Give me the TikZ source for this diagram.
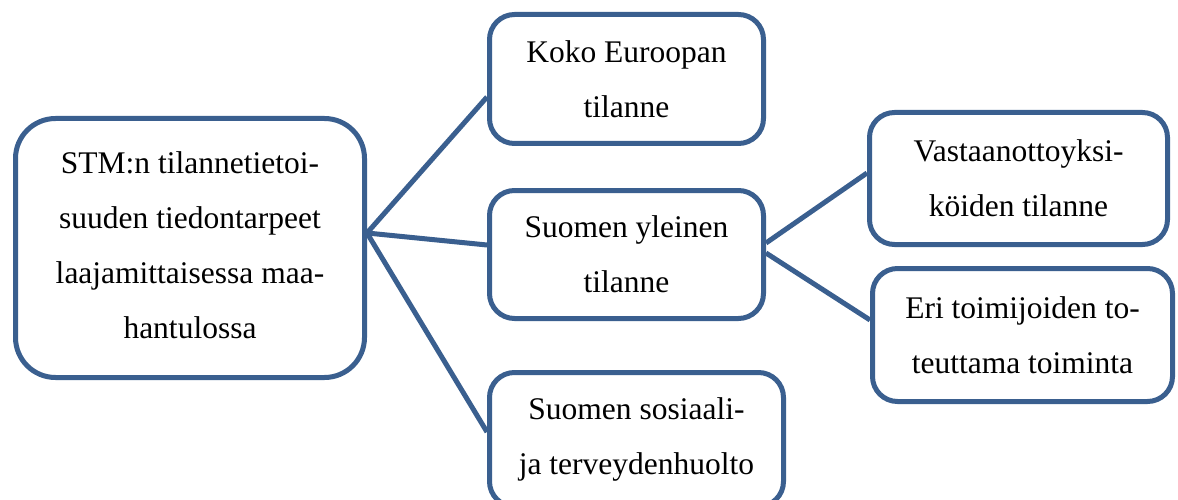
\documentclass[tikz,border=0pt]{standalone}
\usepackage{fontspec}
\setmainfont{Liberation Serif}
\usetikzlibrary{calc}
\definecolor{boxblue}{RGB}{58,95,143}
\begin{document}
\begin{tikzpicture}[x=1pt,y=-1pt,
  box/.style={draw=boxblue, line width=5pt, rounded corners=25pt, fill=white,
    inner sep=0pt, align=center, font=\fontsize{31.5}{55}\selectfont, text=black},
  conn/.style={draw=boxblue, line width=5pt}]
\path[use as bounding box, clip] (0,0) rectangle (1178,500);
% boxes
\node[box, rounded corners=40pt, minimum width=349pt, minimum height=259pt, text depth=6pt] (L) at (190,248)
  {STM:n tilannetietoi-\\suuden tiedontarpeet\\laajamittaisessa maa-\\hantulossa};
\node[box, minimum width=274pt, minimum height=129pt] (T) at (626.5,79)
  {Koko Euroopan\\tilanne};
\node[box, minimum width=274pt, minimum height=128pt] (M) at (626.5,254.5)
  {Suomen yleinen\\tilanne};
\node[box, minimum width=294pt, minimum height=134pt] (B) at (636.5,439.5)
  {Suomen sosiaali-\\ja terveydenhuolto};
\node[box, minimum width=298pt, minimum height=132pt] (R1) at (1018.5,178.5)
  {Vastaanottoyksi-\\köiden tilanne};
\node[box, minimum width=300pt, minimum height=133pt] (R2) at (1022.5,335)
  {Eri toimijoiden to-\\teuttama toiminta};
% connection points
\coordinate (hub) at ($(L.east)+(0,-15)$);
\coordinate (tin) at ($(T.west)+(0,18)$);
\coordinate (min) at ($(M.west)+(0,-9.5)$);
\coordinate (bin) at ($(B.west)+(0,-7.5)$);
\coordinate (mo1) at ($(M.east)+(0,-11.5)$);
\coordinate (mo2) at ($(M.east)+(0,-1.5)$);
\coordinate (r1in) at ($(R1.west)+(0,-5.5)$);
\coordinate (r2in) at ($(R2.west)+(0,-15)$);
% connectors
\draw[conn] (hub) -- (tin);
\draw[conn] (hub) -- (min);
\draw[conn] (hub) -- (bin);
\draw[conn] (mo1) -- (r1in);
\draw[conn] (mo2) -- (r2in);
\end{tikzpicture}
\end{document}
